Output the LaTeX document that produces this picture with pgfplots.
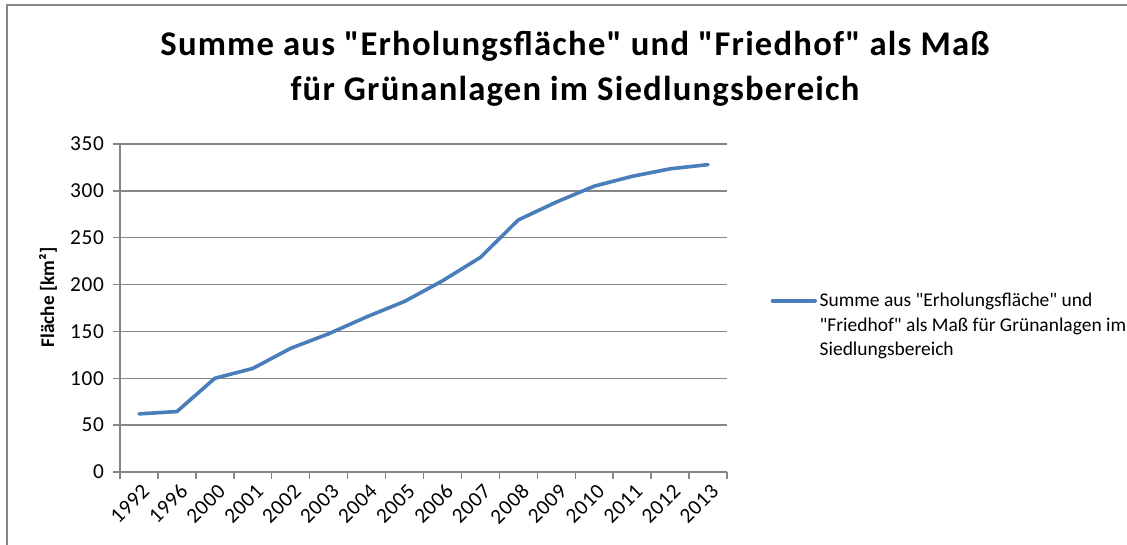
\documentclass[border=0pt]{standalone}
\usepackage{pgfplots}
\pgfplotsset{compat=1.18}
\usepackage{fontspec}
\setmainfont{Carlito}[Ligatures=TeXOff]
\definecolor{xlblue}{HTML}{4A7EBB}
\definecolor{xlgray}{HTML}{868686}
\begin{document}
\begin{tikzpicture}[x=0.75pt,y=0.75pt]
\path[use as bounding box] (0,0) rectangle (1127,545);
\draw[xlgray, line width=1.5pt] (7,0) -- (7,540) -- (1127,540);
\node[font=\bfseries\fontsize{26}{33.75}\selectfont\addfontfeatures{LetterSpace=3.5}, align=center] at (575,476) {Summe aus "Erholungsfläche" und "Friedhof" als Maß\\für Grünanlagen im Siedlungsbereich};
\begin{axis}[
  at={(90pt,54.75pt)}, anchor=south west,
  scale only axis, width=455.25pt, height=246pt,
  xmin=-0.5, xmax=15.5, ymin=0, ymax=350,
  axis x line*=bottom, axis y line*=left,
  axis line style={xlgray, line width=1.1pt, -},
  ytick={0,50,...,350}, ymajorgrids,
  grid style={xlgray, line width=1.1pt},
  xtick={0,...,15},
  xticklabels={1992,1996,2000,2001,2002,2003,2004,2005,2006,2007,2008,2009,2010,2011,2012,2013},
  minor xtick={-0.5,0.5,...,15.5},
  major x tick style={draw=none},
  minor x tick style={xlgray, line width=1.1pt},
  major y tick style={xlgray, line width=1.1pt},
  tick align=outside,
  major tick length=5pt, minor tick length=5pt,
  /pgf/number format/assume math mode=true,
  tick label style={font=\fontsize{16}{18}\selectfont\addfontfeatures{LetterSpace=3}, text=black},
  y tick label style={xshift=-3.5pt},
  x tick label style={rotate=45, anchor=north east, inner sep=1pt, yshift=-2pt},
  ylabel={Fläche [km²]},
  ylabel style={at={(axis description cs:-0.1186,0.532)}, anchor=center, font=\bfseries\fontsize{14.5}{16}\selectfont},
  legend style={at={(axis description cs:1.065,0.447)}, anchor=west, draw=none, fill=none,
    font=\fontsize{14.6}{18.2}\selectfont, cells={align=left}},
  legend cell align=left,
  legend image code/.code={\draw[xlblue, line width=2.7pt] (0pt,18.4pt) -- (32pt,18.4pt);},
]
\addplot[xlblue, line width=2.7pt, line join=round, line cap=round] coordinates {
(0,62) (1,64.5) (2,100) (3,110.5) (4,132) (5,147.5) (6,165.5) (7,182) (8,204) (9,229) (10,269) (11,288) (12,305) (13,315.5) (14,323.5) (15,328)
};
\addlegendentry{Summe aus "Erholungsfläche" und\\"Friedhof" als Maß für Grünanlagen im\\Siedlungsbereich}
\end{axis}
\end{tikzpicture}
\end{document}
